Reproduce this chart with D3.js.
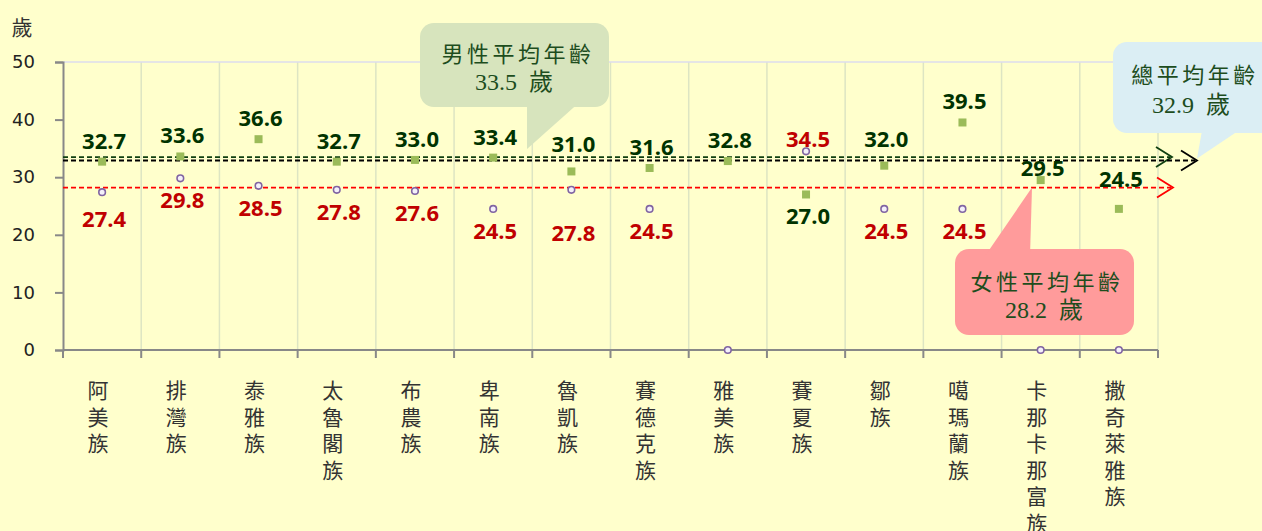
<!DOCTYPE html>
<html lang="zh-Hant">
<head>
<meta charset="utf-8">
<title>原住民族平均年齡</title>
<script src="https://d3js.org/d3.v7.min.js"></script>
<style>
body { margin: 0; background: #ffffcc; }
svg { display: block; }
</style>
</head>
<body>
<div id="chart"></div>
<script>
// chart data
var tribes = ["阿美族", "排灣族", "泰雅族", "太魯閣族", "布農族", "卑南族", "魯凱族",
  "賽德克族", "雅美族", "賽夏族", "鄒族", "噶瑪蘭族", "卡那卡那富族", "撒奇萊雅族"];
var maleAge = [32.7, 33.6, 36.6, 32.7, 33.0, 33.4, 31.0, 31.6, 32.8, 27.0, 32.0, 39.5, 29.5, 24.5];
var femaleAge = [27.4, 29.8, 28.5, 27.8, 27.6, 24.5, 27.8, 24.5, 0, 34.5, 24.5, 24.5, 0, 0];
var yTicks = [0, 10, 20, 30, 40, 50];
var avgMale = 33.5, avgFemale = 28.2, avgTotal = 32.9;

var width = 1262, height = 531;

var svg = d3.select("#chart").append("svg")
  .attr("width", width)
  .attr("height", height);

svg.append("rect").attr("width", width).attr("height", height).attr("fill", "#ffffcc");

var x = d3.scaleBand().domain(tribes).range([63, 1158]);
var y = d3.scaleLinear().domain([0, 50]).range([350, 62]);
var left = x.range()[0], right = x.range()[1];

// grid: vertical lines between categories, light line on top
svg.append("g").selectAll("line")
  .data(tribes)
  .enter().append("line")
  .attr("x1", function(d) { return x(d) + x.bandwidth(); })
  .attr("x2", function(d) { return x(d) + x.bandwidth(); })
  .attr("y1", y(50))
  .attr("y2", y(0))
  .attr("stroke", "#dde5c3")
  .attr("stroke-width", 1.5);

svg.append("line")
  .attr("x1", left).attr("x2", right)
  .attr("y1", y(50)).attr("y2", y(50))
  .attr("stroke", "#dcdcee")
  .attr("stroke-width", 1.5);

// y axis
var yAxis = svg.append("g")
  .attr("transform", "translate(" + left + ",0)")
  .call(d3.axisLeft(y).tickValues(yTicks).tickSize(8).tickPadding(20));
yAxis.select(".domain").attr("stroke", "#888").attr("stroke-width", 2);
yAxis.selectAll(".tick line").attr("stroke", "#888").attr("stroke-width", 2);
yAxis.selectAll("text")
  .style("font-family", "DejaVu Sans, sans-serif")
  .style("font-size", "18px")
  .attr("fill", "#222");

svg.append("text")
  .attr("x", 22).attr("y", 26)
  .attr("text-anchor", "middle")
  .attr("dominant-baseline", "central")
  .style("font-family", "Noto Sans CJK TC, sans-serif")
  .style("font-size", "21px")
  .attr("fill", "#333")
  .text("歲");

// x axis
svg.append("line")
  .attr("x1", left).attr("x2", right)
  .attr("y1", y(0)).attr("y2", y(0))
  .attr("stroke", "#888").attr("stroke-width", 2);

svg.append("g").selectAll("line")
  .data(d3.range(tribes.length + 1))
  .enter().append("line")
  .attr("x1", function(i) { return left + i * x.step(); })
  .attr("x2", function(i) { return left + i * x.step(); })
  .attr("y1", y(0))
  .attr("y2", y(0) + 8)
  .attr("stroke", "#888").attr("stroke-width", 2);

// vertical category labels, one character per text
var xLabels = svg.append("g");
tribes.forEach(function(d) {
  var lx = x(d) + x.bandwidth() / 2 - 4;
  d.split("").forEach(function(ch, i) {
    xLabels.append("text")
      .attr("x", lx)
      .attr("y", 389 + i * 26.6)
      .attr("text-anchor", "middle")
      .attr("dominant-baseline", "central")
      .style("font-family", "Noto Sans CJK TC, sans-serif")
      .style("font-size", "21px")
      .attr("fill", "#333")
      .text(ch);
  });
});

// average lines with open arrow heads
var avgLines = [
  { value: avgMale, color: "#0f3f0f", end: 1172 },
  { value: avgTotal, color: "#000000", end: 1197 },
  { value: avgFemale, color: "#ff0000", end: 1173 }
];

avgLines.forEach(function(l) {
  var ly = y(l.value);
  svg.append("line")
    .attr("x1", left).attr("x2", l.end - 2)
    .attr("y1", ly).attr("y2", ly)
    .attr("stroke", l.color)
    .attr("stroke-width", 1.8)
    .attr("stroke-dasharray", "5,3");
  svg.append("path")
    .attr("d", "M" + (l.end - 16) + "," + (ly - 10) + "L" + l.end + "," + ly + "L" + (l.end - 16) + "," + (ly + 10))
    .attr("fill", "none")
    .attr("stroke", l.color)
    .attr("stroke-width", 1.8);
});

// markers
var cx = function(i) { return x(tribes[i]) + x.bandwidth() / 2; };

svg.append("g").selectAll("rect")
  .data(maleAge)
  .enter().append("rect")
  .attr("x", function(d, i) { return cx(i) - 4; })
  .attr("y", function(d) { return y(d) - 4; })
  .attr("width", 8)
  .attr("height", 8)
  .attr("fill", "#9bbb59");

svg.append("g").selectAll("circle")
  .data(femaleAge)
  .enter().append("circle")
  .attr("cx", function(d, i) { return cx(i); })
  .attr("cy", function(d) { return y(d); })
  .attr("r", 3.3)
  .attr("fill", "#f4f0fa")
  .attr("stroke", "#8064a2")
  .attr("stroke-width", 1.6);

// callouts
function callout(box, tail, fill, title, value) {
  var g = svg.append("g");
  g.append("rect")
    .attr("x", box[0]).attr("y", box[1])
    .attr("width", box[2]).attr("height", box[3])
    .attr("rx", 14)
    .attr("fill", fill);
  g.append("path")
    .attr("d", "M" + tail.join("L") + "Z")
    .attr("fill", fill);
  g.append("text")
    .attr("x", title[1] + 2).attr("y", title[2])
    .attr("text-anchor", "middle")
    .attr("dominant-baseline", "central")
    .style("font-family", "Noto Sans CJK TC, serif")
    .style("font-size", "22px")
    .style("letter-spacing", "3.5px")
    .attr("fill", "#1d4d1d")
    .text(title[0]);
  g.append("text")
    .attr("x", value[1]).attr("y", value[2])
    .attr("text-anchor", "middle")
    .attr("dominant-baseline", "central")
    .style("font-family", "Liberation Serif, Noto Sans CJK TC, serif")
    .style("font-size", "24px")
    .attr("fill", "#1d4d1d")
    .text(value[0]);
}

callout([420, 23, 189, 84], [[527, 100], [582, 100], [527, y(avgMale) - 8]], "#d7e4bd",
  ["男性平均年齡", 516, 52], ["33.5\u00a0\u00a0歲", 514, 82]);

callout([1113, 42, 170, 91], [[1203, 125], [1247, 125], [1197, y(avgTotal) - 2]], "#dbeef4",
  ["總平均年齡", 1193, 73], ["32.9\u00a0\u00a0歲", 1191, 105]);

callout([955, 249, 179, 86], [[985, 256], [1030, 256], [1032, y(avgFemale)]], "#ff9b9b",
  ["女性平均年齡", 1045, 280], ["28.2\u00a0\u00a0歲", 1044, 310]);

// data labels
var maleLabelDy = { "賽夏族": 21, "卡那卡那富族": -13, "撒奇萊雅族": -31, "魯凱族": -28, "鄒族": -28 };
var femaleLabelDy = { "賽夏族": -13, "魯凱族": 42, "阿美族": 26 };

svg.append("g").selectAll("text")
  .data(maleAge)
  .enter().append("text")
  .attr("x", function(d, i) { return cx(i) + 2; })
  .attr("y", function(d, i) {
    var dy = maleLabelDy[tribes[i]];
    return y(d) + (dy === undefined ? -22 : dy);
  })
  .attr("text-anchor", "middle")
  .attr("dominant-baseline", "central")
  .style("font-family", "Open Sans, sans-serif")
  .style("font-weight", "bold")
  .style("font-size", "22px")
  .attr("fill", "#003300")
  .text(function(d) { return d.toFixed(1); });

svg.append("g").selectAll("text")
  .data(femaleAge.map(function(v, i) { return { v: v, t: tribes[i], i: i }; })
    .filter(function(d) { return d.v > 0; }))
  .enter().append("text")
  .attr("x", function(d) { return cx(d.i) + 2; })
  .attr("y", function(d) {
    var dy = femaleLabelDy[d.t];
    return y(d.v) + (dy === undefined ? 21 : dy);
  })
  .attr("text-anchor", "middle")
  .attr("dominant-baseline", "central")
  .style("font-family", "Open Sans, sans-serif")
  .style("font-weight", "bold")
  .style("font-size", "22px")
  .attr("fill", "#c00000")
  .text(function(d) { return d.v.toFixed(1); });
</script>
</body>
</html>
